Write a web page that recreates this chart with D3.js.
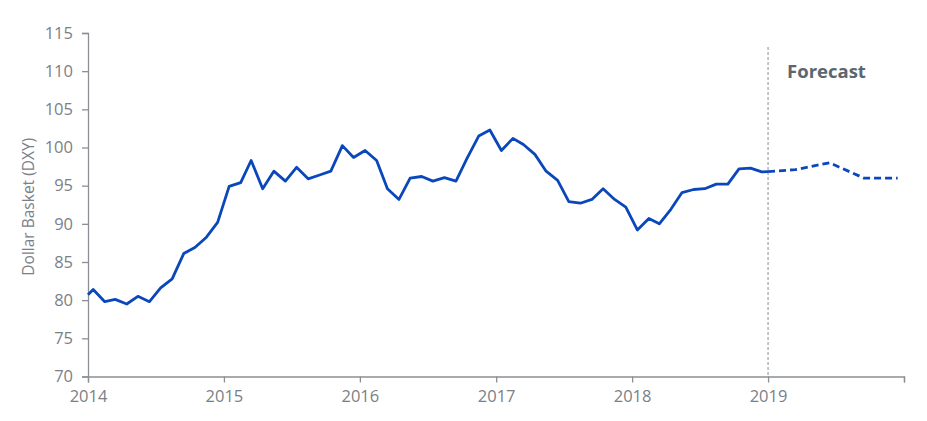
<!DOCTYPE html>
<html>
<head>
<meta charset="utf-8">
<script src="https://cdn.jsdelivr.net/npm/d3@7"></script>
<style>
  body { margin: 0; background: #fff; }
  text { font-family: "Open Sans", Lato, sans-serif; }
</style>
</head>
<body>
<div id="chart"></div>
<script>
// dates : début 2014 puis milieu de chaque mois, fin au 1er janvier 2019
var histDates = ["2014-01-01"].concat(
  d3.timeMonth.range(new Date(2014, 0, 1), new Date(2019, 0, 1))
    .map(function(d) { return d3.timeFormat("%Y-%m-15")(d); }),
  ["2019-01-01"]);

var histValues = [80.7,
  81.4, 79.8, 80.1, 79.5, 80.5, 79.8, 81.6, 82.8, 86.1, 86.9, 88.25, 90.2,
  94.9, 95.4, 98.3, 94.6, 96.9, 95.6, 97.4, 95.9, 96.4, 96.9, 100.25, 98.7,
  99.6, 98.3, 94.6, 93.2, 96.0, 96.2, 95.6, 96.05, 95.6, 98.6, 101.5, 102.3,
  99.6, 101.2, 100.4, 99.1, 96.9, 95.7, 92.9, 92.7, 93.2, 94.6, 93.2, 92.2,
  89.2, 90.7, 90.0, 91.9, 94.1, 94.5, 94.6, 95.2, 95.2, 97.2, 97.3, 96.8,
  96.85];

var forecastDates = ["2019-01-01", "2019-03-15", "2019-06-15", "2019-09-15", "2019-12-15"];
var forecastValues = [96.85, 97.1, 98.0, 96.0, 96.0];

var yTicks = [70, 75, 80, 85, 90, 95, 100, 105, 110, 115];
var xTicks = ["2014-01-01", "2015-01-01", "2016-01-01", "2017-01-01", "2018-01-01", "2019-01-01", "2020-01-01"];
var xTickLabels = ["2014", "2015", "2016", "2017", "2018", "2019", ""];

var yLabel = "Dollar Basket (DXY)",
    forecastLabel = "Forecast";

var width = 927, height = 421,
    margin = {left: 88, right: 23, top: 33, bottom: 45},
    lineColor = "#0a47bb",
    axisColor = "#8c9094",
    textColor = "#7b8087";

var parse = d3.timeParse("%Y-%m-%d");
var hist = histDates.map(function(d, i) { return {date: parse(d), value: histValues[i]}; });
var fcst = forecastDates.map(function(d, i) { return {date: parse(d), value: forecastValues[i]}; });

var x = d3.scaleTime()
  .domain([parse(xTicks[0]), parse(xTicks[xTicks.length - 1])])
  .range([margin.left, width - margin.right]);
var y = d3.scaleLinear()
  .domain([70, 115])
  .range([height - margin.bottom + 0.5, margin.top]);

var svg = d3.select("#chart").append("svg")
  .attr("width", width)
  .attr("height", height);

// axe Y
var yAxis = svg.append("g")
  .attr("transform", "translate(" + margin.left + ",0)")
  .call(d3.axisLeft(y).tickValues(yTicks).tickSize(6).tickPadding(9));
// axe X
var xAxis = svg.append("g")
  .attr("transform", "translate(0," + y(70) + ")")
  .call(d3.axisBottom(x).tickValues(xTicks.map(parse)).tickSize(6).tickPadding(8)
    .tickFormat(function(d, i) { return xTickLabels[i]; }));

[yAxis, xAxis].forEach(function(a) {
  a.selectAll("path, line").attr("stroke", axisColor).attr("stroke-width", 1.3);
  a.selectAll("text").attr("fill", textColor).style("font-size", "16.5px");
});

// titre axe Y
svg.append("text")
  .attr("transform", "translate(34," + (y(92.5) + 2) + ") rotate(-90)")
  .attr("text-anchor", "middle")
  .attr("fill", textColor)
  .style("font-size", "15.5px")
  .text(yLabel);

// ligne verticale de prévision
svg.append("line")
  .attr("x1", x(parse("2019-01-01"))).attr("x2", x(parse("2019-01-01")))
  .attr("y1", 47).attr("y2", y(70))
  .attr("stroke", "#8a8d91")
  .attr("stroke-width", 1)
  .attr("stroke-dasharray", "3,2");

svg.append("text")
  .attr("x", x(parse("2019-01-01")) + 19)
  .attr("y", 78)
  .attr("fill", "#5b6670")
  .style("font-size", "18.5px")
  .style("font-weight", "bold")
  .text(forecastLabel);

var line = d3.line()
  .x(function(d) { return x(d.date); })
  .y(function(d) { return y(d.value); });

svg.append("path")
  .datum(hist)
  .attr("fill", "none")
  .attr("stroke", lineColor)
  .attr("stroke-width", 2.8)
  .attr("stroke-linejoin", "round")
  .attr("d", line);

svg.append("path")
  .datum(fcst)
  .attr("fill", "none")
  .attr("stroke", lineColor)
  .attr("stroke-width", 2.8)
  .attr("stroke-dasharray", "7,4")
  .attr("d", line);
</script>
</body>
</html>
